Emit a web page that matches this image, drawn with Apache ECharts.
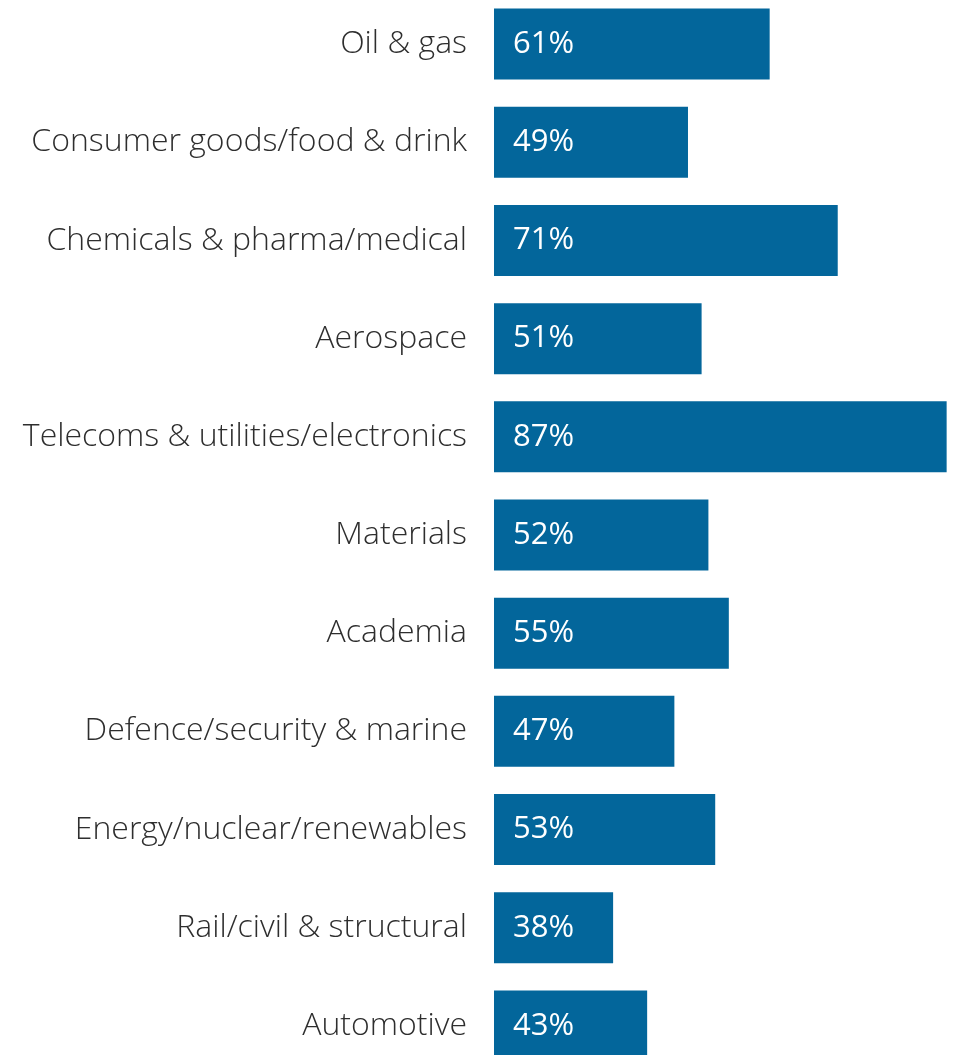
<!DOCTYPE html>
<html>
<head>
<meta charset="utf-8">
<script src="https://cdn.jsdelivr.net/npm/echarts@6/dist/echarts.min.js"></script>
<style>
  html, body { margin: 0; padding: 0; background: #fff; }
  #chart { width: 953px; height: 1055px; }
</style>
</head>
<body>
<div id="chart"></div>
<script>
// 行业类别 (top to bottom)
const categories = [
  'Oil & gas',
  'Consumer goods/food & drink',
  'Chemicals & pharma/medical',
  'Aerospace',
  'Telecoms & utilities/electronics',
  'Materials',
  'Academia',
  'Defence/security & marine',
  'Energy/nuclear/renewables',
  'Rail/civil & structural',
  'Automotive'
]
// 百分比
const values = [61, 49, 71, 51, 87, 52, 55, 47, 53, 38, 43]

const FONT = '"Open Sans", Roboto, sans-serif'
const BAR_COLOR = '#03669b'

const chart = echarts.init(document.getElementById('chart'))
chart.setOption({
  animation: false,
  grid: {
    left: 494,
    right: 5,
    top: -5,
    height: 1080,
    outerBoundsMode: 'none',
    containLabel: false
  },
  xAxis: {
    type: 'value',
    min: 20.5,
    max: 87.2,
    show: false
  },
  yAxis: {
    type: 'category',
    data: categories,
    inverse: true,
    axisLine: { show: false },
    axisTick: { show: false },
    splitLine: { show: false },
    axisLabel: {
      margin: 27,
      fontFamily: FONT,
      fontWeight: 300,
      fontSize: 32,
      color: '#2e2e2e'
    }
  },
  series: [
    {
      type: 'bar',
      data: values,
      barWidth: 71,
      clip: true,
      itemStyle: { color: BAR_COLOR },
      label: {
        show: true,
        position: 'insideLeft',
        distance: 19,
        formatter: '{c}%',
        fontFamily: FONT,
        fontWeight: 400,
        fontSize: 31,
        color: '#fff'
      }
    }
  ]
})
</script>
</body>
</html>
